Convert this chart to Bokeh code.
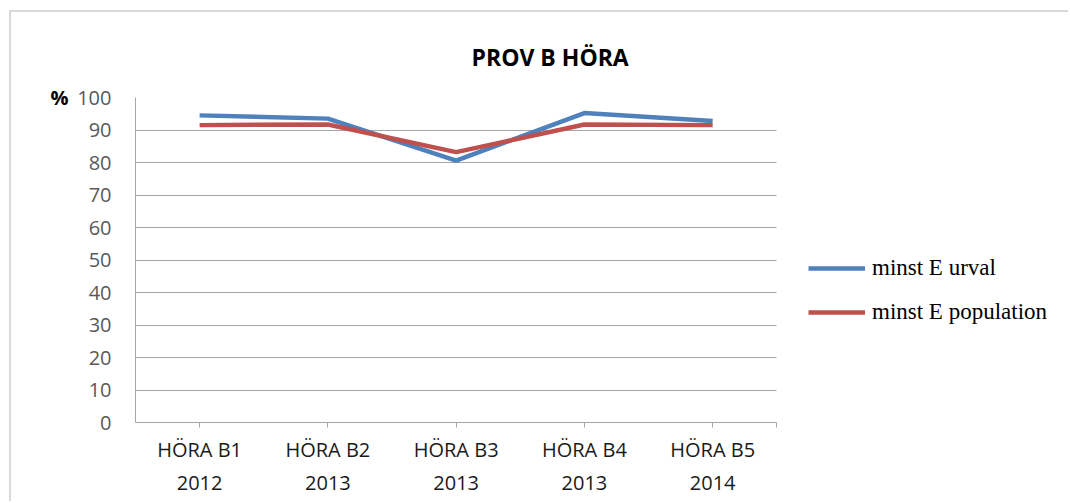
from bokeh.plotting import figure
from bokeh.models import (ColumnDataSource, Legend, LegendItem, SingleIntervalTicker,
                          LinearAxis, FixedTicker, Title)
from bokeh.embed import file_html
from bokeh.resources import INLINE

categories = ["HÖRA B1\n2012", "HÖRA B2\n2013", "HÖRA B3\n2013", "HÖRA B4\n2013", "HÖRA B5\n2014"]
urval = [94.5, 93.5, 80.6, 95.2, 92.8]
population = [91.5, 91.7, 83.2, 91.7, 91.5]
series_names = ["minst E urval", "minst E population"]
y_unit = "%"
chart_title = "PROV B HÖRA"

xs = list(range(len(categories)))

p = figure(width=1059, height=491, x_range=(-0.5, 6.79), y_range=(0, 100),
           output_backend="svg", toolbar_location=None,
           min_border_left=124, min_border_right=0, min_border_top=85, min_border_bottom=81,
           margin=(10, 0, 0, 9))
p.styles = {"border-left": "2px solid #d9d9d9", "border-top": "2px solid #d9d9d9"}
p.outline_line_color = None
p.background_fill_color = "white"

src = ColumnDataSource(dict(x=xs, a=urval, b=population))
r1 = p.line("x", "a", source=src, line_color="#4f81bd", line_width=4.5)
r2 = p.line("x", "b", source=src, line_color="#c0504d", line_width=4.5)

# y axis
p.yaxis.ticker = SingleIntervalTicker(interval=10)
p.yaxis.minor_tick_line_color = None
p.yaxis.major_tick_line_color = None
p.yaxis.axis_line_color = "#a6a6a6"
p.yaxis.major_label_text_font = "Open Sans"
p.yaxis.major_label_text_font_size = "20px"
p.yaxis.major_label_text_color = "#595959"
p.yaxis.major_label_standoff = 18

unit_axis = LinearAxis(ticker=FixedTicker(ticks=[100]), major_label_overrides={100: y_unit},
                       axis_line_color=None, major_tick_line_color=None, minor_tick_line_color=None,
                       major_label_text_font="Open Sans", major_label_text_font_style="bold",
                       major_label_text_font_size="20px", major_label_text_color="#000000",
                       major_label_standoff=0)
p.add_layout(unit_axis, "left")

# x axis (categories at index positions)
p.xaxis.ticker = FixedTicker(ticks=xs, minor_ticks=[len(categories) - 0.5])
p.xaxis.major_label_overrides = {i: c for i, c in zip(xs, categories)}
p.xaxis.bounds = (-0.5, len(categories) - 0.5)
p.xaxis.axis_line_color = "#a6a6a6"
p.xaxis.major_tick_line_color = "#a6a6a6"
p.xaxis.minor_tick_line_color = "#a6a6a6"
p.xaxis.major_tick_in = 0
p.xaxis.major_tick_out = 5
p.xaxis.minor_tick_in = 0
p.xaxis.minor_tick_out = 5
p.xaxis.major_label_text_font = "Open Sans"
p.xaxis.major_label_text_font_size = "20px"
p.xaxis.major_label_text_color = "#1a1a1a"
p.xaxis.major_label_text_line_height = 1.25
p.xaxis.major_label_standoff = 8
p.xaxis.major_label_orientation = "horizontal"

p.xgrid.grid_line_color = None
p.ygrid.grid_line_color = "#a6a6a6"
p.ygrid.grid_line_width = 1
p.ygrid.cross_bounds = (-0.5, len(categories) - 0.5)

legend = Legend(items=[LegendItem(label=series_names[0], renderers=[r1]),
                       LegendItem(label=series_names[1], renderers=[r2])],
                location=(673, 97), padding=0, margin=0, spacing=18,
                glyph_width=57, glyph_height=20, label_standoff=7,
                border_line_color=None, background_fill_alpha=0,
                label_text_font="Liberation Serif", label_text_font_size="23px",
                label_text_color="#000000")
p.add_layout(legend, "center")

p.add_layout(Title(text=chart_title, align="left", offset=336, standoff=50,
                   text_font="Open Sans", text_font_style="bold", text_font_size="23px",
                   text_color="#000000"), "above")

open("out.html", "w").write(file_html(p, INLINE))
